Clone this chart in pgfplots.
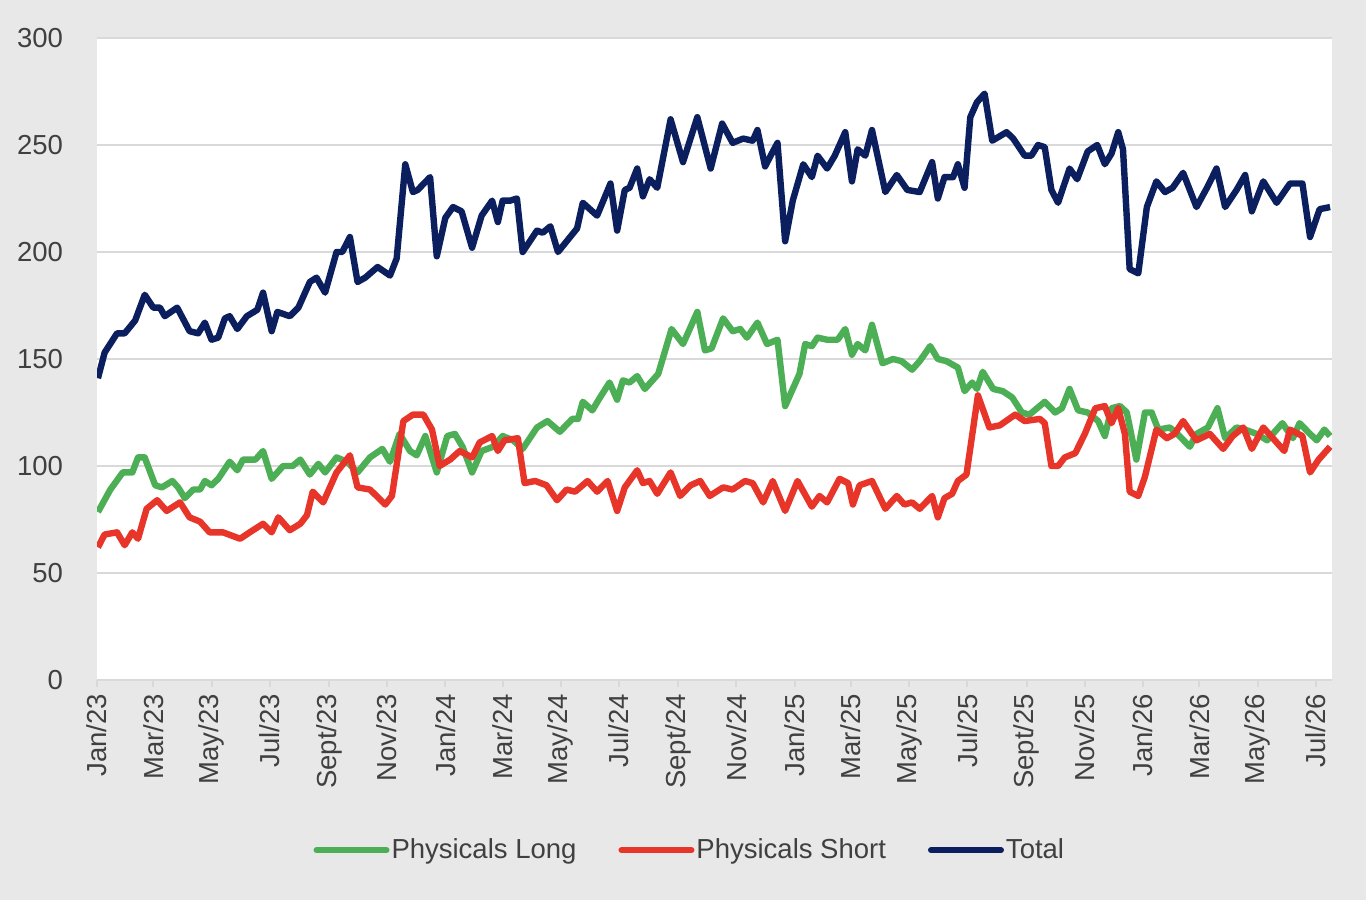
\documentclass[border=0pt]{standalone}
\usepackage{fontspec}
\setmainfont{Liberation Sans}
\usepackage{pgfplots}
\pgfplotsset{compat=1.18}
\definecolor{bggray}{HTML}{E8E8E8}
\definecolor{cLong}{HTML}{4DAF55}
\definecolor{cShort}{HTML}{E8352A}
\definecolor{cTotal}{HTML}{0B1F5E}
\definecolor{gridc}{HTML}{D9D9D9}
\definecolor{txt}{HTML}{404040}
\begin{document}
\begin{tikzpicture}
\fill[bggray] (0,0) rectangle (683pt,450pt);
\begin{axis}[
  at={(48.5pt,110pt)}, anchor=south west,
  scale only axis, width=617.5pt, height=321pt,
  xmin=0, xmax=1294, ymin=0, ymax=300,
  axis background/.style={fill=white},
  axis lines*=left,
  x axis line style={-, draw=gridc, line width=1pt},
  y axis line style={draw=none},
  ytick={0,50,...,300},
  ymajorgrids, grid style={gridc, line width=1pt},
  xtick={0,59,120,181,243,304,365,425,486,547,609,670,731,790,851,912,974,1035,1096,1155,1216,1277},
  xticklabels={Jan/23,Mar/23,May/23,Jul/23,Sept/23,Nov/23,Jan/24,Mar/24,May/24,Jul/24,Sept/24,Nov/24,Jan/25,Mar/25,May/25,Jul/25,Sept/25,Nov/25,Jan/26,Mar/26,May/26,Jul/26},
  tick align=outside, major tick length=3.5pt,
  x tick style={draw=gridc, line width=1pt},
  y tick style={draw=none},
  tick label style={font=\fontsize{13.75}{16}\selectfont, text=txt},
  /pgf/number format/assume math mode=true,
  xticklabel style={rotate=90, anchor=east},
  yticklabel style={xshift=-10pt},
  legend columns=3,
  legend style={at={(0.48,-0.265)}, anchor=center, draw=none, fill=none,
    font=\fontsize{13.75}{16}\selectfont, text=txt,
    /tikz/every even column/.append style={column sep=20pt},
    nodes={inner sep=1pt}},
  legend image code/.code={\draw[#1, line width=3pt, line cap=round] (0pt,0pt) -- (35pt,0pt);},
  every axis plot/.append style={line width=3.2pt, line join=round, no markers},
]
\addplot[cLong] coordinates {
(1,78.5) (14,89) (27,97) (37,97) (43,104) (50,104) (61,91) (68,90) (79,93) (85,90) (92,85) (101,89) (108,89) (113,93) (120,91) (127,94) (139,102) (147,98) (153,103) (166,103) (174,107) (183,94) (195,100) (205,100) (213,103) (223,96) (232,101) (239,97) (251,104) (262,102) (273,97) (286,104) (299,108) (307,102) (317,115) (328,107) (335,105) (344,114) (356,97) (367,114) (375,115) (383,109) (393,97) (403,107) (415,109) (425,114) (436,112) (446,108) (461,118) (472,121) (485,116) (498,122) (504,122) (509,130) (519,126) (527,132) (537,139) (545,131) (551,140) (558,139) (566,142) (574,136) (588,143) (602,164) (614,157) (629,172) (637,154) (644,155) (656,169) (666,163) (674,164) (681,160) (692,167) (702,157) (713,159) (721,128) (736,143) (742,157) (749,156) (755,160) (765,159) (776,159) (784,164) (791,152) (797,157) (805,154) (812,166) (823,148) (834,150) (843,149) (854,145) (862,149) (873,156) (881,150) (890,149) (902,146) (909,135) (917,139) (922,136) (928,144) (939,136) (949,135) (959,132) (969,125) (977,124) (993,130) (1004,125) (1011,127) (1019,136) (1028,126) (1038,125) (1049,121) (1056,114) (1063,127) (1072,128) (1079,125) (1089,103) (1098,125) (1105,125) (1112,117) (1124,118) (1132,115) (1145,109) (1152,115) (1164,118) (1174,127) (1182,113) (1194,118) (1203,117) (1215,115) (1226,112) (1242,120) (1253,113) (1260,120) (1271,115) (1278,112) (1286,117) (1292,114)
};
\addlegendentry{Physicals Long}
\addplot[cShort] coordinates {
(1,62) (8,68) (21,69) (29,63) (37,69) (43,66) (52,80) (63,84) (73,79) (87,83) (97,76) (108,74) (118,69) (132,69) (150,66) (160,69) (174,73) (183,69) (190,76) (202,70) (213,73) (220,77) (226,88) (237,83) (251,97) (265,105) (273,90) (286,89) (302,82) (309,86) (321,121) (331,124) (342,124) (351,117) (359,100) (370,103) (380,107) (393,104) (401,111) (414,114) (420,107) (427,112) (441,113) (448,92) (459,93) (471,91) (482,84) (492,89) (501,88) (514,93) (524,88) (535,93) (545,79) (553,90) (566,98) (572,92) (579,93) (587,87) (601,97) (611,86) (622,91) (632,93) (642,86) (656,90) (666,89) (679,93) (687,92) (698,83) (708,93) (721,79) (734,93) (749,81) (757,86) (765,83) (778,94) (787,92) (792,82) (799,91) (812,93) (826,80) (838,86) (846,82) (854,83) (862,80) (875,86) (881,76) (888,85) (896,87) (902,93) (911,96) (923,133) (935,118) (946,119) (962,124) (972,121) (988,122) (993,120) (1000,100) (1007,100) (1014,104) (1025,106) (1035,115) (1046,127) (1056,128) (1063,120) (1070,127) (1077,115) (1082,88) (1091,86) (1098,95) (1110,117) (1121,113) (1129,115) (1138,121) (1152,112) (1166,115) (1180,108) (1190,114) (1201,118) (1210,108) (1222,118) (1236,111) (1244,107) (1250,117) (1263,114) (1271,97) (1280,103) (1292,109)
};
\addlegendentry{Physicals Short}
\addplot[cTotal] coordinates {
(1,141) (8,153) (21,162) (29,162) (40,168) (50,180) (59,174) (66,174) (71,170) (84,174) (97,163) (106,162) (113,167) (120,159) (127,160) (134,169) (139,170) (147,164) (157,170) (168,173) (174,181) (183,163) (189,172) (202,170) (211,174) (223,186) (230,188) (239,181) (251,200) (257,200) (265,207) (273,186) (281,188) (294,193) (307,189) (314,197) (323,241) (331,228) (336,229) (349,235) (356,198) (365,216) (373,221) (382,219) (393,202) (403,217) (414,224) (420,214) (425,224) (433,224) (440,225) (446,200) (461,210) (467,209) (475,212) (483,200) (503,211) (509,223) (524,217) (538,232) (545,210) (553,229) (558,230) (566,239) (572,226) (579,234) (587,230) (601,262) (614,242) (629,263) (643,239) (655,260) (666,251) (677,253) (687,252) (692,257) (700,240) (707,246) (713,251) (721,205) (729,224) (740,241) (749,235) (755,245) (765,239) (773,245) (784,256) (791,233) (797,248) (805,245) (812,257) (826,228) (838,236) (849,229) (862,228) (875,242) (881,225) (888,235) (897,235) (902,241) (909,230) (915,263) (922,270) (930,274) (938,252) (953,256) (960,253) (972,245) (979,245) (986,250) (993,249) (1000,229) (1007,223) (1019,239) (1027,234) (1038,247) (1048,250) (1056,241) (1063,246) (1070,256) (1075,248) (1082,192) (1091,190) (1100,221) (1110,233) (1119,228) (1127,230) (1138,237) (1152,221) (1163,230) (1173,239) (1182,221) (1194,229) (1203,236) (1210,219) (1222,233) (1236,223) (1250,232) (1263,232) (1271,207) (1281,220) (1292,221)
};
\addlegendentry{Total}
\end{axis}
\pgfresetboundingbox
\path (0,0) rectangle (683pt,450pt);
\end{tikzpicture}
\end{document}
